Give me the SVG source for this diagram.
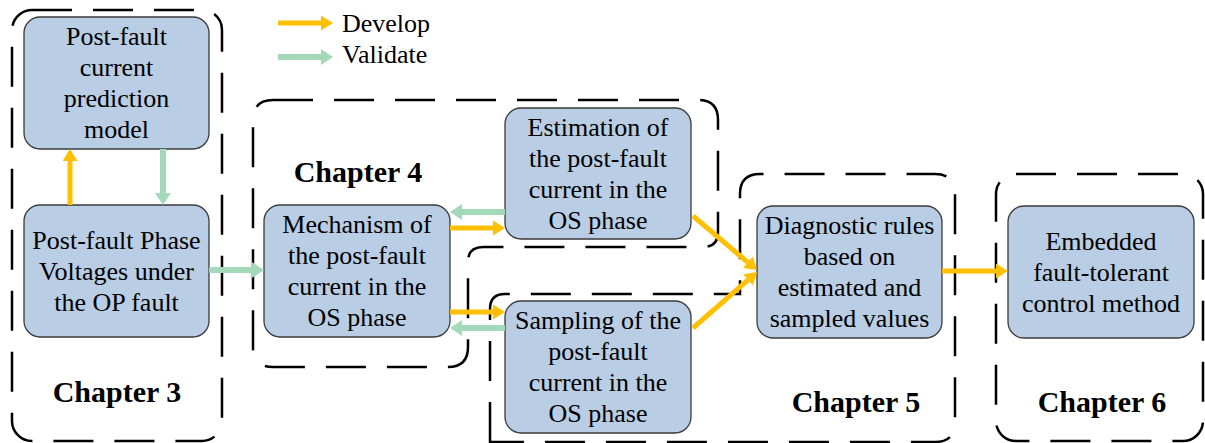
<svg xmlns="http://www.w3.org/2000/svg" width="1205" height="443" viewBox="0 0 1205 443" font-family="Liberation Serif, DejaVu Serif, serif">
<style>
.chap{fill:none;stroke:#000;stroke-width:2.5;stroke-dasharray:40 21}
.node{fill:#B9CDE5;stroke:#3a3a3a;stroke-width:1.3}
text{font-family:'Liberation Serif','DejaVu Serif',serif}
.t{font-size:26px;fill:#000;text-anchor:middle}
.lg{font-size:26px;fill:#000}
.ch{font-size:30px;font-weight:bold;fill:#000;text-anchor:middle}
.dev{stroke:#FFC000;stroke-width:5;fill:none}
.val{stroke:#A3D9B8;stroke-width:6;fill:none}
</style>
<defs>
<marker id="ho" markerUnits="userSpaceOnUse" markerWidth="12" markerHeight="15" refX="0" refY="7.5" orient="auto"><path d="M0,0 L12,7.5 L0,15 z" fill="#FFC000"/></marker>
<marker id="hg" markerUnits="userSpaceOnUse" markerWidth="12" markerHeight="16" refX="0" refY="8" orient="auto"><path d="M0,0 L12,8 L0,16 z" fill="#A3D9B8"/></marker>
</defs>
<rect width="1205" height="443" fill="#fff"/>
<g id="chapters">
<rect id="ch3box" class="chap" x="12" y="10" width="210" height="431" rx="20"/>
<path id="ch4box" class="chap" d="M273,100 H698 Q718,100 718,120 V232 Q718,247 703,247 H483 Q468,247 468,262 V347 Q468,367 448,367 H273 Q253,367 253,347 V120 Q253,100 273,100 Z"/>
<path id="ch5box" class="chap" d="M490,442 V309 Q490,294 505,294 H740 V194 Q740,174 760,174 H935 Q955,174 955,194 V422 Q955,442 935,442 Z"/>
<rect id="ch6box" class="chap" x="996" y="174" width="207" height="267" rx="20"/>
<text class="ch" x="117" y="402">Chapter 3</text>
<text class="ch" x="358" y="182">Chapter 4</text>
<text class="ch" x="856" y="412">Chapter 5</text>
<text class="ch" x="1102" y="412">Chapter 6</text>
</g>
<g id="legend">
<line class="dev" x1="278" y1="23" x2="321" y2="23" marker-end="url(#ho)"/>
<text class="lg" x="342" y="32">Develop</text>
<line class="val" x1="278" y1="57" x2="321" y2="57" marker-end="url(#hg)"/>
<text class="lg" x="342" y="63">Validate</text>
</g>
<g id="n1">
<rect class="node" x="24" y="17" width="185" height="132" rx="16"/>
<text class="t" x="116.5" y="45">Post-fault</text>
<text class="t" x="116.5" y="76">current</text>
<text class="t" x="116.5" y="107">prediction</text>
<text class="t" x="116.5" y="138">model</text>
</g>
<g id="n2">
<rect class="node" x="24" y="205" width="185" height="132" rx="16"/>
<text class="t" x="116.5" y="248.5">Post-fault Phase</text>
<text class="t" x="116.5" y="279.5">Voltages under</text>
<text class="t" x="116.5" y="310.5">the OP fault</text>
</g>
<g id="n3">
<rect class="node" x="264" y="205" width="186" height="132" rx="16"/>
<text class="t" x="357" y="233">Mechanism of</text>
<text class="t" x="357" y="264">the post-fault</text>
<text class="t" x="357" y="295">current in the</text>
<text class="t" x="357" y="326">OS phase</text>
</g>
<g id="n4">
<rect class="node" x="505" y="108" width="186" height="131" rx="16"/>
<text class="t" x="598" y="135.5">Estimation of</text>
<text class="t" x="598" y="166.5">the post-fault</text>
<text class="t" x="598" y="197.5">current in the</text>
<text class="t" x="598" y="228.5">OS phase</text>
</g>
<g id="n5">
<rect class="node" x="505" y="301" width="186" height="132" rx="16"/>
<text class="t" x="598" y="329">Sampling of the</text>
<text class="t" x="598" y="360">post-fault</text>
<text class="t" x="598" y="391">current in the</text>
<text class="t" x="598" y="422">OS phase</text>
</g>
<g id="n6">
<rect class="node" x="757" y="206" width="185" height="132" rx="16"/>
<text class="t" x="849.5" y="234">Diagnostic rules</text>
<text class="t" x="849.5" y="265">based on</text>
<text class="t" x="849.5" y="296">estimated and</text>
<text class="t" x="849.5" y="327">sampled values</text>
</g>
<g id="n7">
<rect class="node" x="1008" y="206" width="186" height="132" rx="16"/>
<text class="t" x="1101" y="249.5">Embedded</text>
<text class="t" x="1101" y="280.5">fault-tolerant</text>
<text class="t" x="1101" y="311.5">control method</text>
</g>
<g id="connectors">
<line class="dev" x1="70" y1="205" x2="70" y2="161" marker-end="url(#ho)"/>
<line class="val" x1="163" y1="149" x2="163" y2="193" marker-end="url(#hg)"/>
<line class="val" x1="209" y1="270" x2="252" y2="270" marker-end="url(#hg)"/>
<line class="val" x1="505" y1="212" x2="462" y2="212" marker-end="url(#hg)"/>
<line class="dev" x1="450" y1="228" x2="493" y2="228" marker-end="url(#ho)"/>
<line class="dev" x1="450" y1="312" x2="493" y2="312" marker-end="url(#ho)"/>
<line class="val" x1="505" y1="328" x2="462" y2="328" marker-end="url(#hg)"/>
<line class="dev" x1="693" y1="216" x2="747.8" y2="262.3" marker-end="url(#ho)"/>
<line class="dev" x1="693" y1="328" x2="748" y2="279.9" marker-end="url(#ho)"/>
<line class="dev" x1="942" y1="271" x2="996" y2="271" marker-end="url(#ho)"/>
</g>
</svg>
